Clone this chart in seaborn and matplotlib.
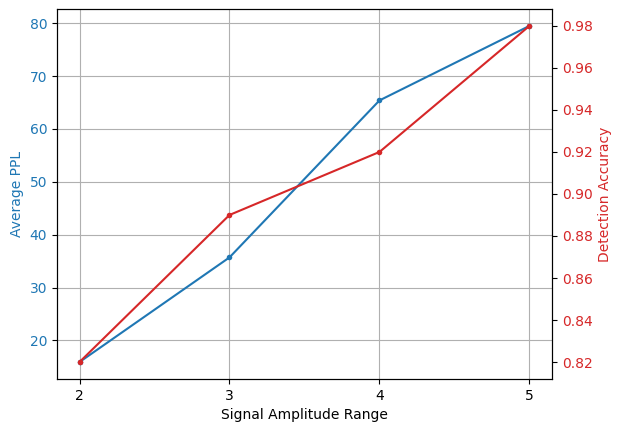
import matplotlib
matplotlib.use("Agg")
import matplotlib.pyplot as plt
import seaborn as sns

# ── Data ─────────────────────────────────────────────
amplitude = [2, 3, 4, 5]
avg_ppl   = [15.9, 35.7, 65.4, 79.5]
accuracy  = [0.82, 0.89, 0.92, 0.98]

blue = "tab:blue"
red  = "tab:red"

fig, ax1 = plt.subplots(figsize=(6.23, 4.32), dpi=100)
fig.subplots_adjust(left=0.0915, right=0.886, top=0.979, bottom=0.123)

sns.lineplot(x=amplitude, y=avg_ppl, ax=ax1, color=blue, marker="o",
             markersize=4, markeredgewidth=0)
ax1.set_xlabel("Signal Amplitude Range")
ax1.set_ylabel("Average PPL", color=blue)
ax1.tick_params(axis="y", labelcolor=blue)
ax1.set_xticks(amplitude)
ax1.grid(True)

ax2 = ax1.twinx()
sns.lineplot(x=amplitude, y=accuracy, ax=ax2, color=red, marker="o",
             markersize=4, markeredgewidth=0)
ax2.set_ylabel("Detection Accuracy", color=red)
ax2.tick_params(axis="y", labelcolor=red)

plt.savefig("out.png", dpi=100)
